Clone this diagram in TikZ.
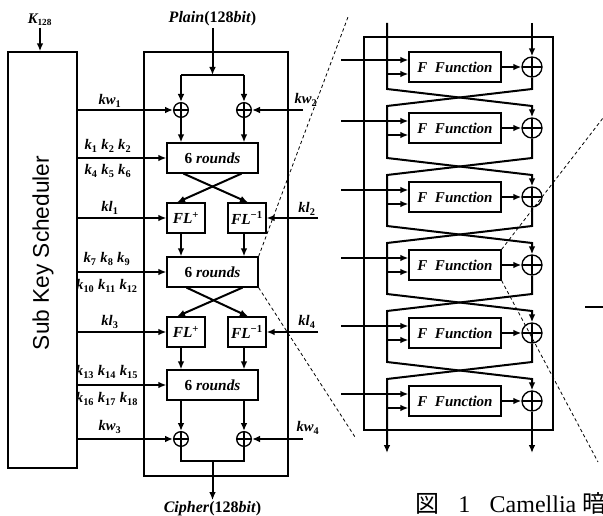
\documentclass[tikz,border=0pt]{standalone}
\usepackage{fontspec}
\setmainfont{Liberation Serif}
\setsansfont{Liberation Sans}
\newfontfamily\cjk{Noto Sans CJK JP}
\usetikzlibrary{arrows.meta,calc}
\newcommand{\sk}[2]{\textit{#1}\textsubscript{\upshape #2}}
\newcommand{\fl}[1]{\textit{FL}\textsuperscript{\upshape #1}}

\begin{document}
\begin{tikzpicture}[
    x=0.75pt, y=-0.75pt,
    thk/.style={line width=1.5pt},
    arr/.style={thk,-{Latex[length=6pt,width=5pt]}},
    ksbox/.style={draw,line width=1.1pt,minimum width=51.75pt,minimum height=312pt,inner sep=0},
    outerbox/.style={draw,line width=0.8pt,inner sep=0},
    rnd/.style={draw,line width=0.9pt,minimum width=68.25pt,minimum height=22.5pt,
                inner sep=0,font=\fontsize{11.5}{13}\selectfont\bfseries},
    flbox/.style={rnd,minimum width=28.5pt},
    fbox/.style={rnd,minimum width=69pt,font=\fontsize{11.25}{13}\selectfont\bfseries\itshape},
    xorl/.style={circle,draw,line width=1pt,minimum size=11pt,inner sep=0,
                 path picture={\draw[line width=1pt]
                   (path picture bounding box.north) -- (path picture bounding box.south)
                   (path picture bounding box.west) -- (path picture bounding box.east);}},
    xorr/.style={xorl,minimum size=15pt},
    lbl/.style={font=\fontsize{11}{13}\selectfont\bfseries\itshape,inner sep=1pt},
    iolbl/.style={lbl,font=\fontsize{12}{14}\selectfont\bfseries},
    zoomline/.style={dashed,dash pattern=on 2.5pt off 2pt,line width=0.6pt}
  ]
  \useasboundingbox (0,0) rectangle (603,516);
  \clip (0,0) rectangle (603,516);

  % key scheduler
  \node[ksbox] (ks) at (42.5,260) {};
  \node[rotate=90,font=\sffamily\fontsize{17}{20}\selectfont] (kst) at (43,253) {Sub Key Scheduler};
  \node[lbl] (kin) at (40,20) {\sk{K}{\scriptsize 128}};
  \draw[arr] (kin) -- (kin |- ks.north);

  % encryption block
  \node[outerbox,minimum width=108pt,minimum height=318pt] (enc) at (216,264) {};
  \node[iolbl] (pin) at (212.5,19) {\textit{Plain}(128\textit{bit})};
  \coordinate (jin) at (212.5,75);
  \node[xorl] (xa) at (181,110) {};
  \node[xorl] (xb) at (244,110) {};
  \node[rnd] (ra) at (212.5,158) {6 \textit{rounds}};
  \node[flbox] (fla) at (186,218) {\fl{+}};
  \node[flbox] (flb) at (247,218) {\fl{−1}};
  \node[rnd] (rb) at (212.5,272) {6 \textit{rounds}};
  \node[flbox] (flc) at (186,332) {\fl{+}};
  \node[flbox] (fld) at (247,332) {\fl{−1}};
  \node[rnd] (rc) at (212.5,385) {6 \textit{rounds}};
  \node[xorl] (xc) at (181,439) {};
  \node[xorl] (xd) at (244,439) {};
  \coordinate (jout) at (212.5,461);
  \node[iolbl] (pout) at (212.5,509) {\textit{Cipher}(128\textit{bit})};

  \draw[arr] (pin) -- (jin);
  \draw[thk] (jin -| xa) -- (jin -| xb);
  \draw[arr] (jin -| xa) -- (xa);
  \draw[arr] (jin -| xb) -- (xb);
  \draw[arr] (xa) -- (xa |- ra.north);
  \draw[arr] (xb) -- (xb |- ra.north);
  \draw[arr] ($(ra.south)+(-29,0)$) -- ($(flb.north)+(1,0)$);
  \draw[arr] ($(ra.south)+(29,0)$) -- ($(fla.north)+(-9,0)$);
  \draw[arr] (xa |- fla.south) -- (xa |- rb.north);
  \draw[arr] (xb |- flb.south) -- (xb |- rb.north);
  \draw[arr] ($(rb.south)+(-26,0)$) -- ($(fld.north)+(1,0)$);
  \draw[arr] ($(rb.south)+(30,0)$) -- ($(flc.north)+(-9,0)$);
  \draw[arr] (xa |- flc.south) -- (xa |- rc.north);
  \draw[arr] (xb |- fld.south) -- (xb |- rc.north);
  \draw[arr] (xc |- rc.south) -- (xc);
  \draw[arr] (xd |- rc.south) -- (xd);
  \draw[thk] (xc) -- (xc |- jout) -- (xd |- jout) -- (xd);
  \draw[arr] (jout) -- (pout);

  % sub keys
  \draw[arr] (ks.east |- xa) -- (xa.west);
  \draw[arr] (ks.east |- ra) -- (ra.west);
  \draw[arr] (ks.east |- fla) -- (fla.west);
  \draw[arr] (ks.east |- rb) -- (rb.west);
  \draw[arr] (ks.east |- flc) -- (flc.west);
  \draw[arr] (ks.east |- rc) -- (rc.west);
  \draw[arr] (ks.east |- xc) -- (xc.west);
  \coordinate (kw2s) at (303,110);
  \coordinate (kl2s) at (318,218);
  \coordinate (kl4s) at (318,332);
  \coordinate (kw4s) at (303,439);
  \draw[arr] (kw2s) -- (xb.east);
  \draw[arr] (kl2s) -- (flb.east);
  \draw[arr] (kl4s) -- (fld.east);
  \draw[arr] (kw4s) -- (xd.east);

  \node[lbl] (lkw1) at (110,101) {\sk{kw}{1}};
  \node[lbl] (lka) at (108,146) {\sk{k}{1} \sk{k}{2} \sk{k}{2}};
  \node[lbl] (lkb) at (108,171) {\sk{k}{4} \sk{k}{5} \sk{k}{6}};
  \node[lbl] (lkl1) at (110,208) {\sk{kl}{1}};
  \node[lbl] (lkc) at (107,259) {\sk{k}{7} \sk{k}{8} \sk{k}{9}};
  \node[lbl] (lkd) at (107,286) {\sk{k}{10} \sk{k}{11} \sk{k}{12}};
  \node[lbl] (lkl3) at (110,322) {\sk{kl}{3}};
  \node[lbl] (lke) at (107,372) {\sk{k}{13} \sk{k}{14} \sk{k}{15}};
  \node[lbl] (lkf) at (107,399) {\sk{k}{16} \sk{k}{17} \sk{k}{18}};
  \node[lbl] (lkw3) at (110,427) {\sk{kw}{3}};
  \node[lbl] (lkw2) at (306,100) {\sk{kw}{2}};
  \node[lbl] (lkl2) at (307,209) {\sk{kl}{2}};
  \node[lbl] (lkl4) at (307,322) {\sk{kl}{4}};
  \node[lbl] (lkw4) at (308,428) {\sk{kw}{4}};

  % feistel detail
  \node[outerbox,minimum width=141.75pt,minimum height=294.75pt] (fei) at (458.5,233.5) {};
  \coordinate (ltop) at (387,23);
  \coordinate (rtop) at (532,23);
  \coordinate (bot) at (387,453);
  \foreach \y [count=\i] in {67,128,197,265,333,401} {
    \node[fbox] (f\i) at (455,\y) {F\hspace{0.5em}Function};
    \node[xorr] (x\i) at (532,\y) {};
    \draw[arr] (f\i) -- (x\i);
    \draw[arr] ($(f\i.west)+(-67,-7)$) -- ($(f\i.west)+(0,-7)$);
    \draw[arr] ($(f\i.west)+(-22,7)$) -- ($(f\i.west)+(0,7)$);
  }
  \foreach \j in {2,...,6} {
    \coordinate (ct\j) at ($(x\j)+(0,-39)$);
    \coordinate (cb\j) at ($(x\j)+(0,-22)$);
  }
  \draw[arr] (rtop) -- (x1);
  \draw[arr] (ltop) -- (ltop |- ct2) -- (cb2) -- (x2);
  \foreach \i/\j/\k in {1/2/3,2/3/4,3/4/5,4/5/6}
    \draw[arr] (x\i) -- (ct\j) -- (ltop |- cb\j) -- (ltop |- ct\k) -- (cb\k) -- (x\k);
  \draw[arr] (x5) -- (ct6) -- (ltop |- cb6) -- (bot);
  \draw[arr] (x6) -- (rtop |- bot);

  % zoom lines
  \coordinate (zt) at (348,17);
  \coordinate (zb) at (355,437);
  \coordinate (zt2) at (603,118);
  \coordinate (zb2) at (598,462);
  \draw[zoomline] (rb.north east) -- (zt);
  \draw[zoomline] (rb.south east) -- (zb);
  \draw[zoomline] (f4.north east) -- (zt2);
  \draw[zoomline] (f4.south east) -- (zb2);
  \coordinate (nxt) at (585,307);
  \draw[thk] (nxt) -- ++(25,0);

  % caption
  \node[anchor=base west,inner sep=0,font=\fontsize{18}{20}\selectfont] (cap) at (415,512)
    {{\cjk 図}\hspace{0.8em}1\hspace{0.8em}Camellia {\cjk 暗}};
\end{tikzpicture}
\end{document}
